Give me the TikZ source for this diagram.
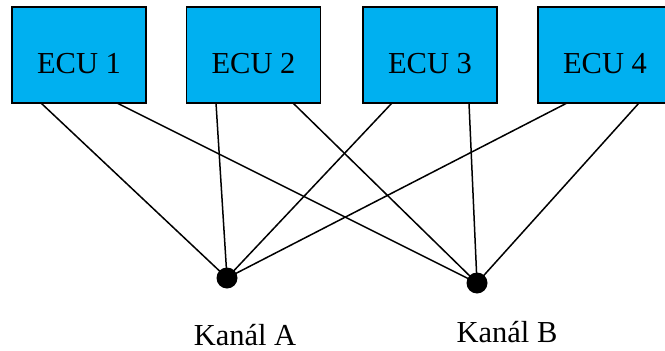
\documentclass[tikz,border=0pt]{standalone}
\usepackage{fontspec}
\setmainfont{Liberation Serif}
\definecolor{ecublue}{HTML}{00B0F0}
\begin{document}
\begin{tikzpicture}[x=1pt,y=-1pt,
  ecubox/.style={draw=black,line width=1.8pt,fill=ecublue,rectangle,
    minimum width=134pt,minimum height=96pt,inner sep=0pt,
    font=\fontsize{30.5}{36}\selectfont,text height=36pt,text depth=0pt},
  busdot/.style={circle,fill=black,minimum size=21pt,inner sep=0pt},
  wire/.style={line width=1.5pt,black},
  chanlabel/.style={font=\fontsize{30.5}{36}\selectfont,anchor=base,inner sep=0pt}]
\useasboundingbox (0,0) rectangle (665,351);
% ECU boxes
\node[ecubox] (e1) at (79,55) {ECU 1};
\node[ecubox] (e2) at (253.5,55) {ECU 2};
\node[ecubox] (e3) at (430,55) {ECU 3};
\node[ecubox] (e4) at (605,55) {ECU 4};
% attachment points on the lower edges
\coordinate (e1a) at (41,103);  \coordinate (e1b) at (117,103);
\coordinate (e2a) at (216,103); \coordinate (e2b) at (293,103);
\coordinate (e3a) at (392,103); \coordinate (e3b) at (469,103);
\coordinate (e4a) at (567,103); \coordinate (e4b) at (639,103);
% channel junctions
\node[busdot] (ka) at (227,278) {};
\node[busdot] (kb) at (477,283) {};
% wiring
\foreach \i in {1,2,3,4}{
  \draw[wire] (e\i a) -- (ka.center);
  \draw[wire] (e\i b) -- (kb.center);
}
% channel labels
\node[chanlabel] (la) at (245,345) {Kanál A};
\node[chanlabel] (lb) at (507,342) {Kanál B};
\end{tikzpicture}
\end{document}
